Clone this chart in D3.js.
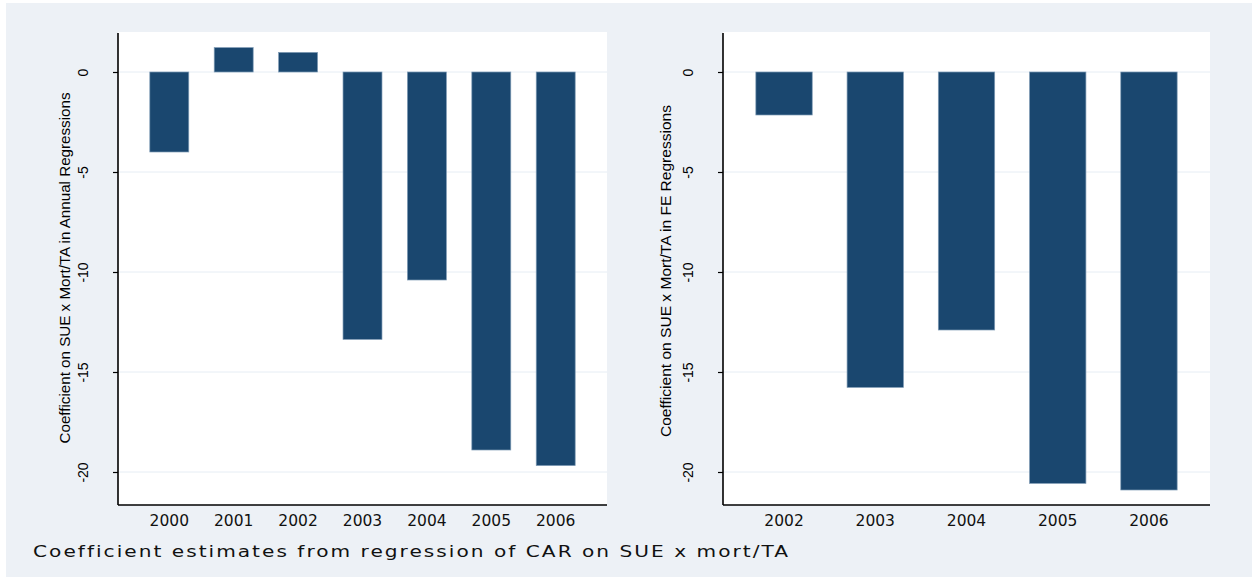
<!DOCTYPE html>
<html>
<head>
<meta charset="utf-8">
<script src="https://cdn.jsdelivr.net/npm/d3@7"></script>
<style>
  body { margin: 0; background: #ffffff; }
  svg { display: block; }
</style>
</head>
<body>
<div id="chart"></div>
<script>
// values
const leftYears = ["2000", "2001", "2002", "2003", "2004", "2005", "2006"];
const leftValues = [-4.0, 1.22, 0.98, -13.37, -10.4, -18.9, -19.68];
const rightYears = ["2002", "2003", "2004", "2005", "2006"];
const rightValues = [-2.15, -15.77, -12.9, -20.57, -20.9];
const yTicks = [0, -5, -10, -15, -20];
const yExtent = [-21.65, 1.95];
const leftTitle = "Coefficient on SUE x Mort/TA in Annual Regressions";
const rightTitle = "Coefficient on SUE x Mort/TA in FE Regressions";
const caption = "Coefficient estimates from regression of CAR on SUE x mort/TA";

const W = 1252, H = 577;
const navy = "#1a476f";

const svg = d3.select("#chart").append("svg")
    .attr("width", W)
    .attr("height", H);

// graph region
svg.append("rect")
    .attr("x", 6).attr("y", 3)
    .attr("width", W - 6).attr("height", H - 3)
    .attr("fill", "#edf1f6");

const y = d3.scaleLinear().domain(yExtent).range([505, 33]);

const drawPanel = (opts) => {
    const g = svg.append("g");
    const x0 = opts.left, x1 = opts.right;

    // plot region
    g.append("rect")
        .attr("x", x0).attr("y", 32)
        .attr("width", x1 - x0).attr("height", 505 - 32)
        .attr("fill", "#ffffff");

    // grid lines
    g.selectAll(".grid")
        .data(yTicks)
        .enter()
        .append("line")
        .attr("x1", x0).attr("x2", x1)
        .attr("y1", d => y(d)).attr("y2", d => y(d))
        .attr("stroke", "#e6edf4")
        .attr("stroke-width", 1);

    const x = d3.scaleBand()
        .domain(opts.years)
        .range([x0, x1])
        .paddingInner(opts.padInner)
        .paddingOuter(opts.padOuter);

    // bars
    g.selectAll(".bar")
        .data(opts.values)
        .enter()
        .append("rect")
        .attr("x", (d, i) => x(opts.years[i]))
        .attr("width", x.bandwidth())
        .attr("y", d => y(Math.max(0, d)))
        .attr("height", d => Math.abs(y(d) - y(0)))
        .attr("fill", navy)
        .attr("stroke", "#7f9bb5")
        .attr("stroke-width", 0.7);

    // y axis
    const yAxis = g.append("g")
        .attr("transform", "translate(" + x0 + ",0)")
        .call(d3.axisLeft(y).tickValues(yTicks).tickSize(5).tickFormat(d => String(d)));
    yAxis.select(".domain").remove();
    yAxis.selectAll(".tick line").attr("stroke", "#000").attr("stroke-width", 1.2);
    yAxis.selectAll(".tick text")
        .attr("x", 0)
        .attr("dy", "0.36em")
        .attr("text-anchor", "middle")
        .attr("transform", "translate(-35,0) rotate(-90)")
        .style("font-family", "'Liberation Sans Narrow', 'Liberation Sans', Arial, sans-serif")
        .style("font-size", "14px")
        .attr("fill", "#000");

    g.append("line")
        .attr("x1", x0).attr("x2", x0)
        .attr("y1", y(yExtent[1])).attr("y2", y(yExtent[0]))
        .attr("stroke", "#000").attr("stroke-width", 1.6);

    // x axis
    g.append("line")
        .attr("x1", x0).attr("x2", x1)
        .attr("y1", 505).attr("y2", 505)
        .attr("stroke", "#000").attr("stroke-width", 1.6);

    g.selectAll(".xlab")
        .data(opts.years)
        .enter()
        .append("text")
        .attr("x", d => x(d) + x.bandwidth() / 2)
        .attr("y", 526)
        .attr("text-anchor", "middle")
        .style("font-family", "'DejaVu Sans', sans-serif")
        .style("font-size", "15.5px")
        .attr("fill", "#111")
        .text(d => d);

    // y title
    g.append("text")
        .attr("transform", "translate(" + opts.titleX + "," + opts.titleY + ") rotate(-90)")
        .attr("text-anchor", "middle")
        .attr("dy", "0.36em")
        .attr("textLength", opts.titleLen)
        .attr("lengthAdjust", "spacingAndGlyphs")
        .style("font-family", "'Liberation Sans Narrow', 'Liberation Sans', Arial, sans-serif")
        .style("font-size", "14px")
        .attr("fill", "#000")
        .text(opts.title);
};

drawPanel({
    left: 118, right: 607,
    years: leftYears, values: leftValues,
    padInner: 0.395, padOuter: 0.494,
    title: leftTitle, titleX: 65, titleY: 268, titleLen: 351
});

drawPanel({
    left: 723, right: 1210,
    years: rightYears, values: rightValues,
    padInner: 0.382, padOuter: 0.36,
    title: rightTitle, titleX: 666, titleY: 271, titleLen: 332
});

// note
svg.append("text")
    .attr("x", 33)
    .attr("y", 557)
    .attr("textLength", 757)
    .attr("lengthAdjust", "spacingAndGlyphs")
    .style("font-family", "'DejaVu Sans', sans-serif")
    .style("font-size", "15px")
    .style("letter-spacing", "1.5px")
    .attr("fill", "#111")
    .text(caption);
</script>
</body>
</html>
